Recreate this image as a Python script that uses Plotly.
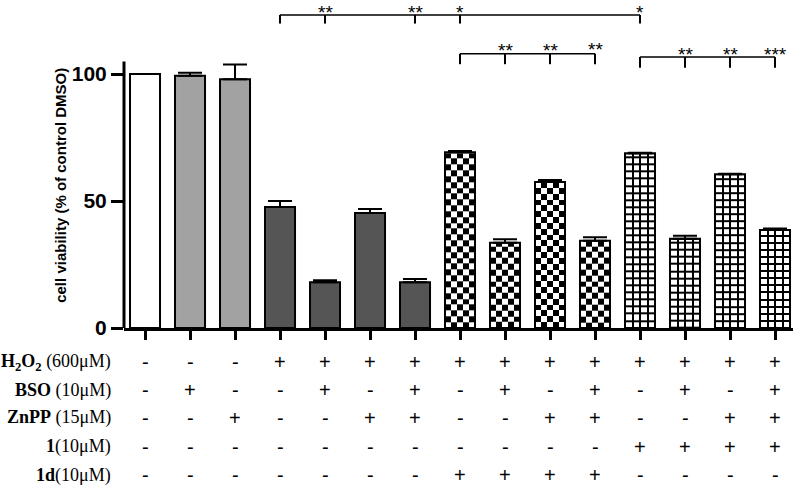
import numpy as np
import plotly.graph_objects as go

# ---------------- data ----------------
bar_x = list(range(15))
values = [100, 99.3, 98.0, 47.7, 18.0, 45.3, 18.0, 69.2, 33.6, 57.5, 34.4, 68.8, 35.2, 60.6, 38.6]
errors = [0, 1.2, 5.8, 2.3, 0.8, 1.6, 1.3, 0.5, 1.4, 0.8, 1.3, 0.2, 1.1, 0.2, 0.6]
groups = ["white", "light", "light", "dark", "dark", "dark", "dark",
          "checker", "checker", "checker", "checker", "grid", "grid", "grid", "grid"]

row_labels = ["<b>H<sub>2</sub>O<sub>2</sub></b> (600μM)", "<b>BSO</b> (10μM)",
              "<b>ZnPP</b> (15μM)", "<b>1</b>(10μM)", "<b>1d</b>(10μM)"]
row_signs = [
    "---++++++++++++",
    "-+--+-+-+-+-+-+",
    "--+--++--++--++",
    "-----------++++",
    "-------++++----",
]

# significance brackets: (start bar, drop bars, line y, drop bottom y, labels, label y)
brackets = [
    dict(start=3, drops=[4, 6, 7, 11], line_y=123.3, bottom_y=119.9,
         labels=["**", "**", "*", "*"], label_y=[124.4, 124.4, 124.4, 124.4]),
    dict(start=7, drops=[8, 9, 10], line_y=108.0, bottom_y=103.9,
         labels=["**", "**", "**"], label_y=[109.3, 109.3, 109.8]),
    dict(start=11, drops=[12, 13, 14], line_y=106.7, bottom_y=102.5,
         labels=["**", "**", "***"], label_y=[107.9, 107.9, 107.9]),
]

# ---------------- styling ----------------
W, H = 799, 491
ML, MR, MT, MB = 124, 6, 3, 163
PH = H - MT - MB
BAR_W = 0.667
color_map = {"white": "white", "light": "#a2a2a2", "dark": "#555555",
             "checker": "rgba(0,0,0,0)", "grid": "rgba(0,0,0,0)"}

fig = go.Figure()
BW = [[0, "white"], [1, "black"]]

# pattern fills (heatmap cells derived from each bar's value)
for i, (v, g) in enumerate(zip(values, groups)):
    if g == "checker":
        ncol, step = 5, 2.3
        xe = [i - BAR_W / 2 + k * BAR_W / ncol for k in range(ncol + 1)]
        ye = list(np.arange(0, v, step)) + [v]
        z = [[(r + c) % 2 for c in range(ncol)] for r in range(len(ye) - 1)]
        fig.add_trace(go.Heatmap(x=xe, y=ye, z=z, colorscale=BW, zmin=0, zmax=1,
                                 showscale=False, hoverinfo="skip"))
    elif g == "grid":
        ncol, step = 4, 2.8
        xe = [i - BAR_W / 2 + k * BAR_W / ncol for k in range(ncol + 1)]
        ye = list(np.arange(0, v, step)) + [v]
        # black base, then white cells with gaps -> black grid lines
        fig.add_trace(go.Heatmap(x=[xe[0], xe[-1]], y=[0, v], z=[[1]], colorscale=BW,
                                 zmin=0, zmax=1, showscale=False, hoverinfo="skip"))
        z = [[0] * ncol for _ in range(len(ye) - 1)]
        fig.add_trace(go.Heatmap(x=xe, y=ye, z=z, colorscale=BW, zmin=0, zmax=1,
                                 xgap=2, ygap=2, showscale=False, hoverinfo="skip"))

fig.add_trace(go.Bar(
    x=bar_x, y=values, width=BAR_W,
    marker=dict(color=[color_map[g] for g in groups],
                line=dict(color="black", width=2)),
    error_y=dict(type="data", symmetric=False, array=errors,
                 arrayminus=[0] * 15, color="black", thickness=2, width=12,
                 visible=True),
    showlegend=False,
))

shapes = []
annotations = []
# y axis line (stops at 105)
shapes.append(dict(type="line", xref="paper", yref="y", x0=0, x1=0, y0=0, y1=105,
                   line=dict(color="black", width=3)))

for b in brackets:
    shapes.append(dict(type="line", xref="x", yref="y", x0=b["start"], x1=b["drops"][-1],
                       y0=b["line_y"], y1=b["line_y"], line=dict(color="black", width=1.5)))
    for xx in [b["start"]] + b["drops"]:
        shapes.append(dict(type="line", xref="x", yref="y", x0=xx, x1=xx,
                           y0=b["bottom_y"], y1=b["line_y"], line=dict(color="black", width=2)))
    for xx, lab, ly in zip(b["drops"], b["labels"], b["label_y"]):
        annotations.append(dict(x=xx, y=ly, xref="x", yref="y", text=lab, showarrow=False,
                                font=dict(family="Liberation Sans", size=19, color="black"),
                                xanchor="center", yanchor="middle"))

row_px = [362, 390, 418, 446.5, 475]
for r, (lab, signs) in enumerate(zip(row_labels, row_signs)):
    py = (H - MB - row_px[r]) / PH
    annotations.append(dict(x=(113 - ML) / (W - ML - MR), y=py, xref="paper", yref="paper",
                            text=lab, showarrow=False, xanchor="right", yanchor="middle",
                            font=dict(family="Liberation Serif", size=18, color="black")))
    for i, s in enumerate(signs):
        annotations.append(dict(x=i, y=py, xref="x", yref="paper", text=s, showarrow=False,
                                xanchor="center", yanchor="middle",
                                font=dict(family="Liberation Sans", size=20, color="black")))

annotations.append(dict(x=(61 - ML) / (W - ML - MR), y=56, xref="paper", yref="y",
                        text="<b>cell viability (% of control DMSO)</b>", textangle=-90,
                        showarrow=False, xanchor="center", yanchor="middle",
                        font=dict(family="Liberation Sans", size=15, color="black")))

fig.update_layout(
    width=W, height=H, margin=dict(l=ML, r=MR, t=MT, b=MB),
    paper_bgcolor="white", plot_bgcolor="white",
    barmode="overlay", showlegend=False,
    shapes=shapes, annotations=annotations,
    xaxis=dict(range=[-0.467, 14.4], tickvals=bar_x, ticktext=[""] * 15,
               showline=True, linecolor="black", linewidth=3,
               ticks="outside", ticklen=9, tickwidth=2.5, tickcolor="black",
               showgrid=False, zeroline=False, fixedrange=True),
    yaxis=dict(range=[0, 128], tickvals=[0, 50, 100], showline=False,
               ticks="outside", ticklen=12, tickwidth=3, tickcolor="black",
               tickfont=dict(family="Liberation Sans", size=21, color="black", weight="bold"),
               showgrid=False, zeroline=False, fixedrange=True),
)

fig.write_html("out.html", config={"displayModeBar": False},
               post_script="document.body.style.margin='0';")
